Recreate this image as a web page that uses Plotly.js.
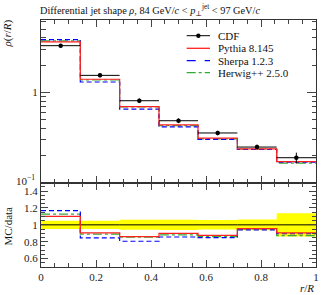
<!DOCTYPE html>
<html>
<head>
<meta charset="utf-8">
<script src="https://cdn.plot.ly/plotly-3.0.1.min.js"></script>
<style>html,body{margin:0;padding:0;background:#fff;}#chart{width:327px;height:295px;}</style>
</head>
<body>
<div id="chart"></div>
<script>
// Bin edges in r/R
const binEdges = [0, 0.143, 0.286, 0.429, 0.571, 0.714, 0.857, 1.0];
// CDF data rho(r/R) and absolute uncertainties
const cdfValues = [3.28, 1.54, 0.807, 0.485, 0.355, 0.248, 0.189];
const cdfErrors = [0.16, 0.077, 0.048, 0.029, 0.020, 0.016, 0.026];
// MC predictions
const pythiaValues = [3.61, 1.394, 0.694, 0.436, 0.311, 0.237, 0.171];
const sherpaValues = [3.83, 1.301, 0.650, 0.415, 0.301, 0.233, 0.169];
const herwigValues = [3.70, 1.369, 0.690, 0.427, 0.305, 0.236, 0.165];
// Labels
const seriesNames = ["CDF", "Pythia 8.145", "Sherpa 1.2.3", "Herwig++ 2.5.0"];
const mainTickVals = [1];
const mainTickText = ["1"];
const mainBottomLabel = "10<sup>−1</sup>";
const ratioTickVals = [0.6, 0.8, 1, 1.2, 1.4];
const ratioTickText = ["0.6", "0.8", "1", "1.2", "1.4"];
const xTickVals = [0, 0.2, 0.4, 0.6, 0.8, 1];
const xTickText = ["0", "0.2", "0.4", "0.6", "0.8", "1"];

const FONT = "Liberation Serif, DejaVu Serif, serif";
const RED = "#ff2020", BLUE = "#0000ff", GREEN = "#33aa33";

const step = v => v.concat([v[v.length - 1]]);
const centers = binEdges.slice(0, -1).map((e, i) => (e + binEdges[i + 1]) / 2);
const halfW = binEdges.slice(0, -1).map((e, i) => (binEdges[i + 1] - e) / 2);
const ratio = arr => arr.map((v, i) => v / cdfValues[i]);
const bandLo = cdfValues.map((v, i) => 1 - cdfErrors[i] / v);
const bandHi = cdfValues.map((v, i) => 1 + cdfErrors[i] / v);
const ones = cdfValues.map(v => v / v);

const traces = [
  // main panel
  {x: binEdges, y: step(herwigValues), mode: "lines", line: {shape: "hv", color: GREEN, width: 1.2, dash: "dashdot"}, xaxis: "x", yaxis: "y", name: seriesNames[3], showlegend: false, hoverinfo: "skip"},
  {x: binEdges, y: step(sherpaValues), mode: "lines", line: {shape: "hv", color: BLUE, width: 1.2, dash: "5px,3px"}, xaxis: "x", yaxis: "y", name: seriesNames[2], showlegend: false, hoverinfo: "skip"},
  {x: binEdges, y: step(pythiaValues), mode: "lines", line: {shape: "hv", color: RED, width: 1.2}, xaxis: "x", yaxis: "y", name: seriesNames[1], showlegend: false, hoverinfo: "skip"},
  {x: centers, y: cdfValues, mode: "markers", marker: {color: "black", size: 4.5},
   error_x: {type: "data", array: halfW, visible: true, color: "black", thickness: 1, width: 0},
   error_y: {type: "data", array: cdfErrors, visible: true, color: "black", thickness: 1, width: 0},
   xaxis: "x", yaxis: "y", name: seriesNames[0], showlegend: false, hoverinfo: "skip"},
  // ratio panel
  {x: binEdges, y: step(bandLo), mode: "lines", line: {shape: "hv", width: 0, color: "rgba(0,0,0,0)"}, xaxis: "x2", yaxis: "y2", showlegend: false, hoverinfo: "skip"},
  {x: binEdges, y: step(bandHi), mode: "lines", line: {shape: "hv", width: 0, color: "rgba(0,0,0,0)"}, fill: "tonexty", fillcolor: "#ffff00", xaxis: "x2", yaxis: "y2", showlegend: false, hoverinfo: "skip"},
  {x: binEdges, y: step(ones), mode: "lines", line: {shape: "hv", color: "black", width: 1}, xaxis: "x2", yaxis: "y2", showlegend: false, hoverinfo: "skip"},
  {x: binEdges, y: step(ratio(herwigValues)), mode: "lines", line: {shape: "hv", color: GREEN, width: 1.2, dash: "dashdot"}, xaxis: "x2", yaxis: "y2", showlegend: false, hoverinfo: "skip"},
  {x: binEdges, y: step(ratio(sherpaValues)), mode: "lines", line: {shape: "hv", color: BLUE, width: 1.2, dash: "5px,3px"}, xaxis: "x2", yaxis: "y2", showlegend: false, hoverinfo: "skip"},
  {x: binEdges, y: step(ratio(pythiaValues)), mode: "lines", line: {shape: "hv", color: RED, width: 1.2}, xaxis: "x2", yaxis: "y2", showlegend: false, hoverinfo: "skip"}
];

const L = 41, R = 11, T = 20, B = 28, W = 327, H = 295;
const pw = W - L - R, ph = H - T - B;
const px2x = p => (p - L) / pw;
const py2y = p => (H - B - p) / ph;
const split = py2y(182.7);

const axCommon = {showline: true, linecolor: "#333", linewidth: 1, mirror: "ticks", ticks: "inside", tickcolor: "#444", tickwidth: 1, showgrid: false, zeroline: false, tickfont: {family: FONT, size: 11, color: "#222"}};

const shapes = [];
const annotations = [];
const legY = [35.7, 48.3, 60.7, 72.7];
const legX0 = 186.7, legX1 = 210, legTx = 215.5;
const legStyles = [
  {color: "black", dash: "solid", width: 1},
  {color: RED, dash: "solid", width: 1.3},
  {color: BLUE, dash: "dash", width: 1.3},
  {color: GREEN, dash: "dashdot", width: 1.3}
];
legY.forEach((py, i) => {
  shapes.push({type: "line", xref: "paper", yref: "paper", x0: px2x(legX0), x1: px2x(legX1), y0: py2y(py), y1: py2y(py), line: legStyles[i]});
  annotations.push({xref: "paper", yref: "paper", x: px2x(legTx), y: py2y(py), xanchor: "left", yanchor: "middle", text: seriesNames[i], showarrow: false, font: {family: FONT, size: 11, color: "#111"}});
});
const cxp = px2x((legX0 + legX1) / 2), cyp = py2y(legY[0]);
shapes.push({type: "circle", xref: "paper", yref: "paper", xsizemode: "pixel", ysizemode: "pixel", xanchor: cxp, yanchor: cyp, x0: -2.2, x1: 2.2, y0: -2.2, y1: 2.2, fillcolor: "black", line: {width: 0}});

annotations.push({xref: "paper", yref: "paper", x: px2x(37), y: py2y(180), text: mainBottomLabel, showarrow: false, xanchor: "right", yanchor: "middle", font: {family: FONT, size: 11, color: "#222"}});
annotations.push({xref: "paper", yref: "paper", x: -33.5 / pw, y: py2y(34), text: "<i>ρ</i>(<i>r</i>/<i>R</i>)", textangle: -90, showarrow: false, xanchor: "center", yanchor: "middle", font: {family: FONT, size: 11, color: "#111"}});
annotations.push({xref: "paper", yref: "paper", x: -33.5 / pw, y: py2y(226), text: "MC/data", textangle: -90, showarrow: false, xanchor: "center", yanchor: "middle", font: {family: FONT, size: 11, color: "#111"}});
annotations.push({xref: "paper", yref: "paper", x: 1, y: py2y(287.5), text: "<i>r</i>/<i>R</i>", showarrow: false, xanchor: "right", yanchor: "middle", font: {family: FONT, size: 11, color: "#111"}});

const layout = {
  width: W, height: H,
  margin: {l: L, r: R, t: T, b: B, pad: 0},
  paper_bgcolor: "white", plot_bgcolor: "white",
  showlegend: false,
  font: {family: FONT, size: 11, color: "#111"},
  title: {text: "Differential jet shape <i>ρ</i>, 84 GeV/<i>c</i> &lt; <i>p</i><sub>⊥</sub><sup>jet</sup> &lt; 97 GeV/<i>c</i>", x: 40 / W, xanchor: "left", xref: "container", y: 1 - 10 / H, yanchor: "middle", yref: "container", font: {family: FONT, size: 10.3, color: "#111"}},
  xaxis: Object.assign({}, axCommon, {range: [0, 1], anchor: "y", tickvals: xTickVals, ticktext: xTickText, showticklabels: false, ticklen: 7, minor: {dtick: 0.05, ticks: "inside", ticklen: 4, tickcolor: "#444"}}),
  yaxis: Object.assign({}, axCommon, {type: "log", range: [-1, 0.8], domain: [split, 1], anchor: "x", tickvals: mainTickVals, ticktext: mainTickText, ticklen: 9, minor: {tickmode: "array", tickvals: [0.2, 0.3, 0.4, 0.5, 0.6, 0.7, 0.8, 0.9, 2, 3, 4, 5, 6], ticks: "inside", ticklen: 4.5, tickcolor: "#444"}}),
  xaxis2: Object.assign({}, axCommon, {range: [0, 1], anchor: "y2", matches: "x", tickvals: xTickVals, ticktext: xTickText, ticklen: 7, minor: {dtick: 0.05, ticks: "inside", ticklen: 4, tickcolor: "#444"}}),
  yaxis2: Object.assign({}, axCommon, {range: [0.5, 1.5], domain: [0, split], anchor: "x2", tickvals: ratioTickVals, ticktext: ratioTickText, ticklen: 7, minor: {dtick: 0.05, ticks: "inside", ticklen: 4, tickcolor: "#444"}}),
  shapes: shapes,
  annotations: annotations
};

Plotly.newPlot("chart", traces, layout, {staticPlot: true, displayModeBar: false});
</script>
</body>
</html>
